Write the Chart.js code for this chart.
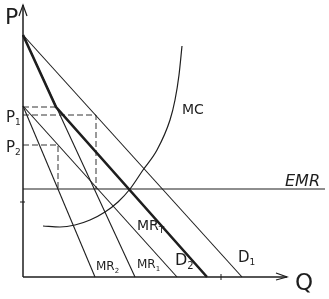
<!DOCTYPE html>
<html>
<head>
<meta charset="utf-8">
<script src="https://cdn.jsdelivr.net/npm/chart.js@4.4.1/dist/chart.umd.min.js"></script>
<style>
  html, body { margin: 0; padding: 0; background: #fff; }
  #wrap { width: 329px; height: 299px; }
</style>
</head>
<body>
<div id="wrap"><canvas id="chart"></canvas></div>
<script>
// curves as [Q, P] pairs (units: origin at the axes corner)
const demand1 = [[0, 242], [219, 0]];
const margRev1 = [[0, 242], [112, 0]];
const demand2 = [[0, 171], [154, 0]];
const margRev2 = [[0, 171], [72, 0]];
const margRevTotal = [[0, 242], [33, 170], [184, 0]];
const equalMR = [[0, 88], [302, 0 + 88]];
const margCost = [[20, 51], [37, 50], [52, 52], [67, 57], [82, 65], [95, 75], [107, 88],
                  [120, 107], [134, 127], [147, 157], [152, 177], [156, 202], [159, 231]];
const guideP0 = [[0, 170], [33, 170]];
const guideP1 = [[0, 162], [73, 162], [73, 88]];
const guideP2 = [[0, 132], [35, 132], [35, 88]];
const axisQ = [[0, 0], [264, 0]];
const axisP = [[0, 0], [0, 272]];
const tickQ = [[198, -3], [198, 3]];
const tickP = [[-3, 75], [2, 75]];

const labels = [
    { text: 'P', sub: '', x: -18, y: 253, size: 22 },
    { text: 'Q', sub: '', x: 272, y: -13, size: 23 },
    { text: 'P', sub: '1', x: -17, y: 155, size: 15 },
    { text: 'P', sub: '2', x: -17, y: 125, size: 15 },
    { text: 'MC', sub: '', x: 159, y: 163, size: 14 },
    { text: 'EMR', sub: '', x: 262, y: 91, size: 16, italic: true },
    { text: 'MR', sub: 'T', x: 114, y: 47, size: 14 },
    { text: 'MR', sub: '2', x: 73, y: 7, size: 12 },
    { text: 'MR', sub: '1', x: 114, y: 9, size: 12 },
    { text: 'D', sub: '2', x: 152, y: 12, size: 16 },
    { text: 'D', sub: '1', x: 215, y: 15, size: 15 }
];

const ink = '#1e1e1e';
const toPoints = arr => arr.map(p => ({ x: p[0], y: p[1] }));

function line(data, width, dash) {
    return {
        data: toPoints(data),
        borderColor: ink,
        borderWidth: width,
        borderDash: dash || [],
        pointRadius: 0,
        tension: 0,
        fill: false
    };
}

const textPlugin = {
    id: 'handLabels',
    afterDatasetsDraw(chart) {
        const ctx = chart.ctx;
        const xs = chart.scales.x, ys = chart.scales.y;
        ctx.save();
        ctx.fillStyle = ink;
        ctx.strokeStyle = ink;
        ctx.textBaseline = 'alphabetic';
        labels.forEach(l => {
            const px = xs.getPixelForValue(l.x);
            const py = ys.getPixelForValue(l.y);
            ctx.font = (l.italic ? 'italic ' : '') + l.size + 'px "DejaVu Sans", sans-serif';
            ctx.fillText(l.text, px, py);
            if (l.sub) {
                const w = ctx.measureText(l.text).width;
                ctx.font = Math.round(l.size * 0.62) + 'px "DejaVu Sans", sans-serif';
                ctx.fillText(l.sub, px + w, py + l.size * 0.22);
            }
        });
        // arrow heads
        ctx.lineWidth = 1.2;
        const top = { x: xs.getPixelForValue(0), y: ys.getPixelForValue(272) };
        ctx.beginPath();
        ctx.moveTo(top.x - 4, top.y + 11);
        ctx.lineTo(top.x, top.y);
        ctx.lineTo(top.x + 4, top.y + 11);
        ctx.stroke();
        const right = { x: xs.getPixelForValue(264), y: ys.getPixelForValue(0) };
        ctx.beginPath();
        ctx.moveTo(right.x - 11, right.y - 4);
        ctx.lineTo(right.x, right.y);
        ctx.lineTo(right.x - 11, right.y + 3);
        ctx.stroke();
        ctx.restore();
    }
};

new Chart(document.getElementById('chart').getContext('2d'), {
    type: 'line',
    data: {
        datasets: [
            line(axisP, 1.5),
            line(axisQ, 1.5),
            line(tickQ, 1),
            line(tickP, 1),
            line(guideP0, 0.9, [6, 3]),
            line(guideP1, 0.9, [6, 3]),
            line(guideP2, 0.9, [6, 3]),
            line(demand1, 1.1),
            line(margRev1, 1.1),
            line(demand2, 1.1),
            line(margRev2, 1.1),
            line(equalMR, 1.1),
            Object.assign(line(margCost, 1.2), { tension: 0.4, cubicInterpolationMode: 'monotone' }),
            line(margRevTotal, 2.6)
        ]
    },
    options: {
        responsive: true,
        maintainAspectRatio: false,
        animation: false,
        clip: false,
        layout: { padding: { left: 23, right: 0, top: 0, bottom: 22 } },
        plugins: {
            legend: { display: false },
            tooltip: { enabled: false }
        },
        scales: {
            x: { type: 'linear', min: 0, max: 306, display: false },
            y: { type: 'linear', min: 0, max: 277, display: false }
        }
    },
    plugins: [textPlugin]
});
</script>
</body>
</html>
